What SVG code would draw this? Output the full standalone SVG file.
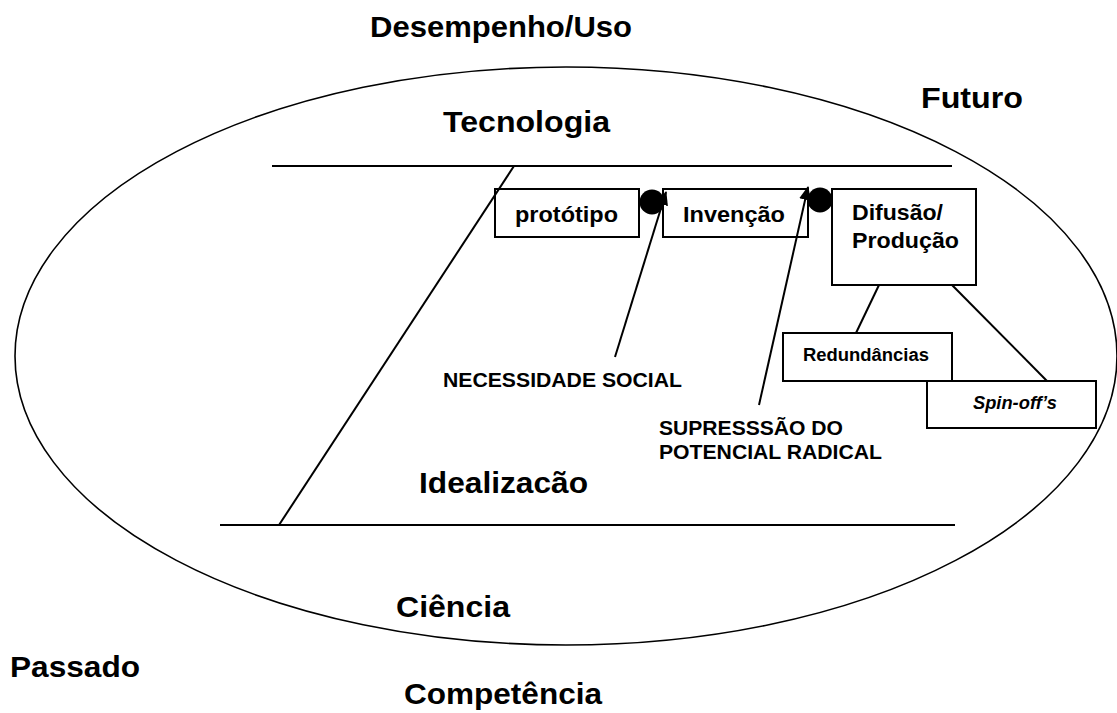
<svg xmlns="http://www.w3.org/2000/svg" width="1117" height="713" viewBox="0 0 1117 713">
<style>
text{font-family:"Liberation Sans",Arial,sans-serif;font-weight:bold;fill:#000}
.big{font-size:30px}
.box{font-size:22px}
.sm{font-size:18px}
.note{font-size:20px}
.node rect{fill:#fff;stroke:#000;stroke-width:2}
.ln{stroke:#000;stroke-width:2;fill:none}
.thin{stroke:#000;stroke-width:1.6;fill:none}
</style>
<defs>
<marker id="ah" markerWidth="14" markerHeight="12" refX="13" refY="6" orient="auto" markerUnits="userSpaceOnUse">
<path d="M0,0 L14,6 L0,12 Z" fill="#000"/>
</marker>
<clipPath id="clipFut"><rect x="900" y="70" width="150" height="38"/></clipPath>
<clipPath id="clipIdeal"><rect x="400" y="455" width="220" height="38"/></clipPath>
</defs>
<g id="frame">
<ellipse cx="566" cy="356" rx="551" ry="289" class="thin"/>
</g>
<g id="labels">
<text x="370" y="37" class="big" textLength="262" lengthAdjust="spacingAndGlyphs">Desempenho/Uso</text>
<text x="921" y="108" class="big" textLength="102" lengthAdjust="spacingAndGlyphs" clip-path="url(#clipFut)">Futuro</text>
<text x="443" y="132" class="big" textLength="167" lengthAdjust="spacingAndGlyphs">Tecnologia</text>
<text x="419" y="493" class="big" textLength="169" lengthAdjust="spacingAndGlyphs" clip-path="url(#clipIdeal)">Idealização</text>
<text x="396" y="617" class="big" textLength="114" lengthAdjust="spacingAndGlyphs">Ciência</text>
<text x="10" y="677" class="big" textLength="130" lengthAdjust="spacingAndGlyphs">Passado</text>
<text x="404" y="704" class="big" textLength="198" lengthAdjust="spacingAndGlyphs">Competência</text>
<text x="443" y="387" class="note" textLength="239" lengthAdjust="spacingAndGlyphs">NECESSIDADE SOCIAL</text>
<text x="659" y="435" class="note" textLength="184" lengthAdjust="spacingAndGlyphs">SUPRESSSÃO DO</text>
<text x="659" y="459" class="note" textLength="223" lengthAdjust="spacingAndGlyphs">POTENCIAL RADICAL</text>
</g>
<g id="prototipo" class="node">
<rect x="495" y="189" width="144" height="48"/>
<text x="515" y="222" class="box" textLength="103" lengthAdjust="spacingAndGlyphs">protótipo</text>
</g>
<g id="invencao" class="node">
<rect x="663" y="189" width="145" height="48"/>
<text x="683" y="222" class="box" textLength="102" lengthAdjust="spacingAndGlyphs">Invenção</text>
</g>
<g id="difusao" class="node">
<rect x="832" y="189" width="144" height="96"/>
<text x="852" y="220" class="box" textLength="91" lengthAdjust="spacingAndGlyphs">Difusão/</text>
<text x="852" y="248" class="box" textLength="107" lengthAdjust="spacingAndGlyphs">Produção</text>
</g>
<g id="redundancias" class="node">
<rect x="783" y="333" width="169" height="48"/>
<text x="803" y="361" class="sm" textLength="126" lengthAdjust="spacingAndGlyphs">Redundâncias</text>
</g>
<g id="spinoffs" class="node">
<rect x="927" y="381" width="169" height="47"/>
<text x="973" y="409" class="sm" style="font-style:italic" textLength="84" lengthAdjust="spacingAndGlyphs">Spin-off’s</text>
</g>
<g id="connectors">
<line x1="272" y1="166" x2="952" y2="166" class="ln"/>
<line x1="220" y1="525" x2="955" y2="525" class="ln"/>
<line x1="514" y1="166" x2="279" y2="525" class="ln"/>
<line x1="879" y1="285" x2="856" y2="333" class="ln"/>
<line x1="952" y1="285" x2="1047" y2="381" class="ln"/>
<line x1="615" y1="357" x2="666" y2="192" class="ln" marker-end="url(#ah)"/>
<line x1="759" y1="405" x2="808" y2="187" class="ln" marker-end="url(#ah)"/>
<circle cx="652" cy="202" r="12.5" fill="#000"/>
<circle cx="820" cy="200" r="12.5" fill="#000"/>
</g>
</svg>
